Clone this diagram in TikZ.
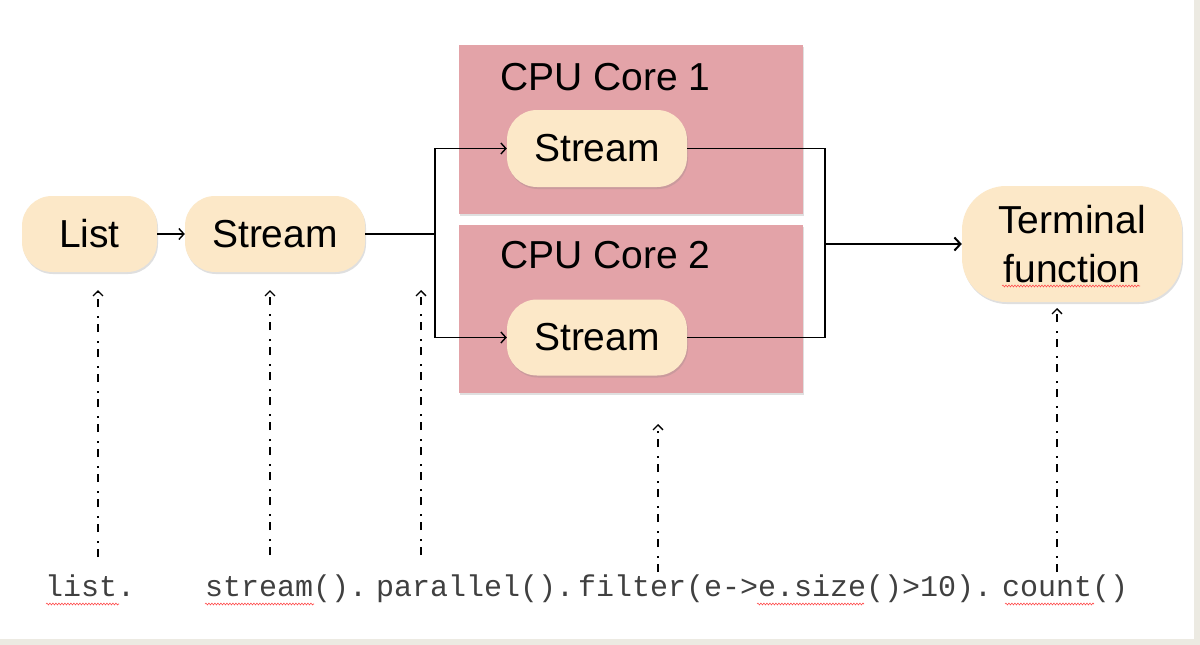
\documentclass[tikz,border=0pt]{standalone}
\usepackage{fontspec}
\setmainfont{Liberation Sans}
\newfontfamily\codefont{Liberation Mono}
\usetikzlibrary{arrows.meta,shadows,decorations.pathmorphing}
\definecolor{nodefill}{RGB}{252,232,200}
\definecolor{corefill}{RGB}{227,163,168}
\definecolor{framecol}{RGB}{236,234,226}
\begin{document}
\begin{tikzpicture}[x=1pt,y=-1pt,
  pill/.style={draw=none, fill=nodefill, rounded corners=30pt, inner sep=0pt,
    font=\fontsize{39}{49}\selectfont,
    drop shadow={shadow xshift=1pt,shadow yshift=-2pt,opacity=.25}},
  corebox/.style={draw=none, fill=corefill, inner sep=0pt,
    drop shadow={shadow xshift=1pt,shadow yshift=-2pt,opacity=.25}},
  corelabel/.style={anchor=base west, inner sep=0pt, font=\fontsize{39}{47}\selectfont},
  code/.style={anchor=base west, inner sep=0pt, text=black!75, font=\codefont\fontsize{30}{36}\selectfont},
  wire/.style={line width=1.4pt},
  flow/.style={line width=1.4pt, -{Straight Barb[length=5pt,width=11pt]}},
  bigflow/.style={line width=2pt, -{Straight Barb[length=6pt,width=13pt]}},
  pointer/.style={line width=1.3pt, dash pattern=on 8pt off 6pt on 2pt off 9pt,
    -{Straight Barb[length=5pt,width=10pt]}},
  spell/.style={red!70, line width=0.6pt, decorate,
    decoration={snake, amplitude=0.9pt, segment length=3pt}}
]
\useasboundingbox (0,0) rectangle (1200,645);
\fill[white] (0,0) rectangle (1200,645);
\fill[framecol] (0,639) rectangle (1200,645);
\fill[framecol] (1194,0) rectangle (1200,645);

% CPU core boxes
\node[corebox, minimum width=344pt, minimum height=169pt] (core1) at (631,129.5) {};
\node[corebox, minimum width=344pt, minimum height=168pt] (core2) at (631,309) {};
\node[corelabel] (lab1) at (500,90) {CPU Core 1};
\node[corelabel] (lab2) at (500,268) {CPU Core 2};

% nodes
\node[pill, minimum width=135pt, minimum height=76pt] (list) at (89.5,234) {List};
\node[pill, minimum width=180pt, minimum height=76pt] (s0) at (275,234) {Stream};
\node[pill, minimum width=180pt, minimum height=77pt] (s1) at (597,148.5) {Stream};
\node[pill, minimum width=180pt, minimum height=76pt] (s2) at (597,337.5) {Stream};
\node[pill, minimum width=220pt, minimum height=116pt, rounded corners=44pt, align=center] (term) at (1072,244) {Terminal\\function};

% connectors
\coordinate (split) at (435,234);
\coordinate (merge) at (825,244);
\draw[flow] (list) -- (s0);
\draw[wire] (s0) -- (split);
\draw[flow] (split) |- (s1);
\draw[flow] (split) |- (s2);
\draw[wire] (s1) -| (merge);
\draw[wire] (s2) -| (merge);
\draw[bigflow] (merge) -- (term);

% code line
\node[code] (c1) at (45,596) {list.};
\node[code] (c2) at (205,596) {stream().};
\node[code] (c3) at (376,596) {parallel().};
\node[code] (c4) at (578,596) {filter(e->e.size()>10).};
\node[code] (c5) at (1002,596) {count()};

% dash-dot pointers
\coordinate (p1b) at (98,557);   \coordinate (p1t) at (98,290);
\coordinate (p2b) at (270,555);  \coordinate (p2t) at (270,290);
\coordinate (p3b) at (421,555);  \coordinate (p3t) at (421,290);
\coordinate (p4b) at (658,572);  \coordinate (p4t) at (658,424);
\coordinate (p5b) at (1057,572); \coordinate (p5t) at (1057,308);
\draw[pointer] (p1b) -- (p1t);
\draw[pointer] (p2b) -- (p2t);
\draw[pointer] (p3b) -- (p3t);
\draw[pointer] (p4b) -- (p4t);
\draw[pointer] (p5b) -- (p5t);

% spell-check underlines
\draw[spell] (46,604) -- (119,604);
\draw[spell] (205,604) -- (314,604);
\draw[spell] (757,604) -- (864,604);
\draw[spell] (1005,604) -- (1094,604);
\draw[spell] (1002,286) -- (1140,286);
\end{tikzpicture}
\end{document}
